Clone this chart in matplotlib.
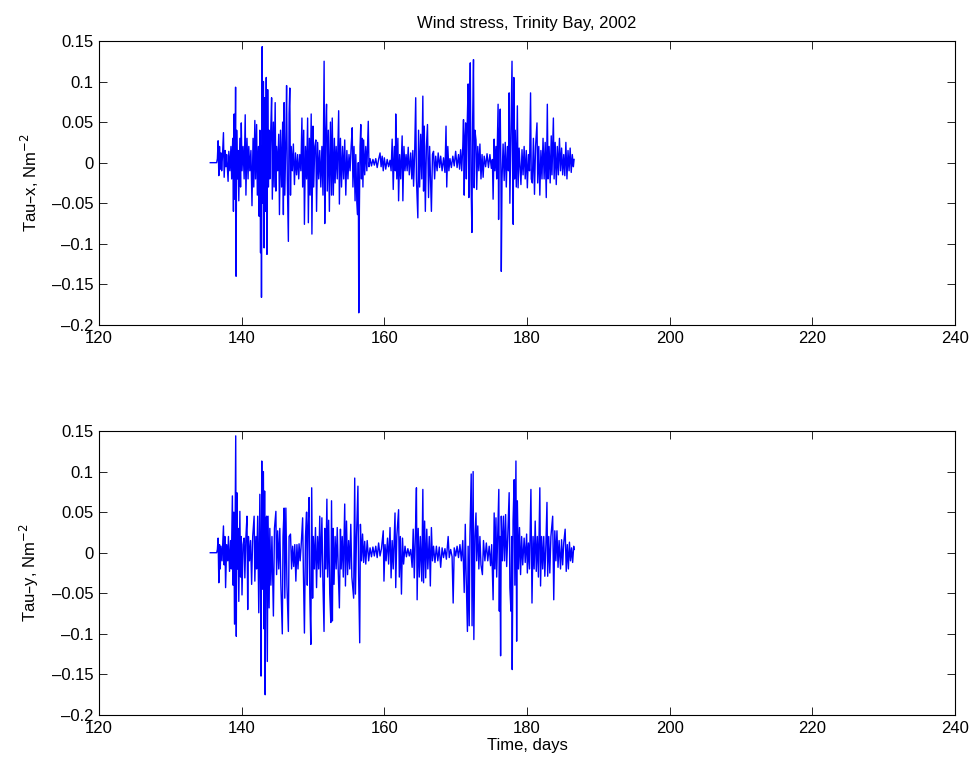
import matplotlib
matplotlib.use("Agg")
import matplotlib.pyplot as plt
import numpy as np
from matplotlib.ticker import FuncFormatter, MultipleLocator

plt.rcParams["font.family"] = ["Liberation Sans", "DejaVu Sans"]

# wind stress components (day of year, N m^-2)
taux_pts = [
    (135.6, 0.0), (136.5, 0.0), (136.6, 0.005), (136.7, 0.027), (136.8, -0.016), (136.9, 0.02),
    (137.0, -0.008), (137.1, 0.012), (137.2, -0.01), (137.3, 0.006), (137.45, 0.037), (137.55, -0.018),
    (137.7, 0.015), (137.8, -0.005), (137.9, 0.01), (138.1, -0.023), (138.2, 0.014), (138.35, -0.01),
    (138.5, 0.02), (138.6, -0.02), (138.75, 0.03), (138.85, -0.06), (138.95, 0.06), (139.05, -0.045),
    (139.15, 0.093), (139.22, -0.14), (139.3, 0.04), (139.4, -0.02), (139.5, 0.015), (139.6, -0.047),
    (139.75, 0.03), (139.85, -0.03), (139.95, 0.049), (140.05, -0.01), (140.2, 0.02), (140.35, -0.02),
    (140.5, 0.059), (140.6, -0.04), (140.75, 0.03), (140.9, -0.02), (141.0, 0.02), (141.15, -0.01),
    (141.3, 0.015), (141.45, -0.053), (141.6, 0.03), (141.7, -0.03), (141.85, 0.052), (141.95, -0.02),
    (142.1, 0.047), (142.2, -0.04), (142.35, 0.02), (142.45, -0.066), (142.55, 0.04), (142.65, -0.111),
    (142.72, 0.02), (142.78, -0.166), (142.88, 0.143), (142.95, -0.05), (143.05, 0.1), (143.15, -0.105),
    (143.25, 0.08), (143.35, -0.06), (143.45, 0.105), (143.55, -0.113), (143.65, 0.09), (143.75, -0.03),
    (143.85, 0.04), (143.95, -0.02), (144.05, 0.03), (144.2, 0.08), (144.3, -0.045), (144.45, 0.05),
    (144.55, -0.03), (144.7, 0.074), (144.8, -0.035), (144.9, 0.02), (145.05, -0.01), (145.2, 0.035),
    (145.3, -0.064), (145.45, 0.04), (145.6, -0.03), (145.75, 0.05), (145.85, -0.064), (145.95, 0.074),
    (146.05, -0.04), (146.2, 0.03), (146.3, 0.095), (146.4, -0.02), (146.55, -0.097), (146.65, 0.06),
    (146.75, 0.092), (146.85, -0.04), (146.95, 0.02), (147.1, -0.01), (147.25, 0.023), (147.4, -0.027),
    (147.55, 0.012), (147.7, -0.015), (147.85, 0.01), (148.0, -0.02), (148.15, 0.01), (148.3, -0.01),
    (148.45, 0.055), (148.55, -0.03), (148.7, 0.04), (148.8, -0.076), (148.95, 0.02), (149.1, -0.02),
    (149.25, 0.055), (149.35, -0.074), (149.5, 0.03), (149.6, -0.04), (149.75, 0.06), (149.85, -0.088),
    (150.0, 0.045), (150.1, -0.03), (150.25, 0.02), (150.4, 0.028), (150.5, -0.06), (150.65, 0.025),
    (150.8, -0.02), (150.95, 0.015), (151.1, -0.03), (151.25, 0.02), (151.4, -0.04), (151.56, 0.125),
    (151.65, -0.075), (151.75, 0.03), (151.9, 0.072), (152.0, -0.035), (152.15, 0.04), (152.3, -0.06),
    (152.45, 0.05), (152.6, -0.04), (152.7, 0.055), (152.85, -0.04), (153.0, 0.03), (153.1, -0.025),
    (153.25, 0.02), (153.4, -0.02), (153.6, 0.064), (153.7, -0.051), (153.85, 0.03), (154.0, -0.03),
    (154.15, 0.02), (154.3, -0.02), (154.45, 0.028), (154.6, -0.04), (154.75, 0.015), (154.9, -0.02),
    (155.05, 0.01), (155.2, -0.01), (155.35, 0.02), (155.5, 0.043), (155.6, -0.03), (155.75, 0.02),
    (155.9, -0.047), (156.0, 0.01), (156.15, -0.05), (156.25, -0.064), (156.35, 0.0), (156.42, -0.185),
    (156.5, -0.06), (156.6, 0.02), (156.7, 0.047), (156.8, -0.02), (156.9, 0.03), (157.0, -0.03),
    (157.1, 0.028), (157.25, -0.015), (157.4, 0.02), (157.55, -0.01), (157.75, 0.051), (157.85, -0.005),
    (158.0, 0.005), (158.2, -0.004), (158.4, 0.004), (158.6, -0.003), (158.8, 0.005), (159.0, -0.006),
    (159.2, 0.004), (159.4, 0.012), (159.55, -0.005), (159.7, 0.008), (159.85, -0.01), (160.0, 0.006),
    (160.2, -0.008), (160.4, 0.004), (160.6, -0.005), (160.8, 0.003), (160.95, -0.01), (161.1, 0.029),
    (161.25, -0.033), (161.4, 0.02), (161.55, -0.01), (161.6, 0.06), (161.75, -0.02), (161.9, 0.03),
    (162.0, -0.047), (162.15, 0.01), (162.3, -0.02), (162.5, 0.033), (162.6, -0.047), (162.75, 0.02),
    (162.9, -0.01), (163.05, 0.01), (163.2, -0.01), (163.35, 0.019), (163.5, -0.015), (163.7, 0.012),
    (163.85, -0.02), (164.0, 0.015), (164.1, -0.029), (164.25, 0.01), (164.4, 0.08), (164.5, -0.02),
    (164.7, -0.068), (164.8, 0.04), (164.95, -0.03), (165.1, 0.035), (165.25, -0.02), (165.4, 0.082),
    (165.5, -0.035), (165.6, 0.045), (165.75, -0.06), (165.9, 0.02), (166.05, 0.047), (166.2, -0.043),
    (166.35, 0.02), (166.5, -0.03), (166.6, -0.06), (166.75, 0.01), (166.9, 0.014), (167.05, -0.02),
    (167.2, 0.008), (167.4, -0.01), (167.55, 0.012), (167.75, -0.006), (167.9, 0.008), (168.1, -0.01),
    (168.3, 0.006), (168.5, -0.012), (168.65, 0.045), (168.75, -0.03), (168.9, 0.02), (169.05, -0.01),
    (169.2, 0.005), (169.4, -0.006), (169.6, 0.008), (169.8, -0.004), (170.0, 0.014), (170.2, -0.006),
    (170.4, 0.01), (170.55, -0.008), (170.7, 0.016), (170.85, -0.01), (171.0, 0.02), (171.1, 0.053),
    (171.2, -0.04), (171.3, 0.03), (171.4, 0.049), (171.5, -0.02), (171.6, 0.04), (171.75, 0.097),
    (171.85, -0.043), (171.95, 0.06), (172.05, 0.123), (172.15, -0.02), (172.28, -0.086), (172.38, 0.05),
    (172.5, 0.127), (172.6, -0.031), (172.7, 0.04), (172.85, 0.028), (172.95, -0.033), (173.1, 0.02),
    (173.25, -0.01), (173.4, 0.023), (173.55, -0.02), (173.7, 0.01), (173.85, -0.018), (174.0, 0.008),
    (174.2, -0.005), (174.4, 0.011), (174.6, -0.006), (174.8, 0.01), (175.0, -0.007), (175.15, 0.004),
    (175.25, -0.045), (175.4, 0.029), (175.5, -0.01), (175.65, 0.02), (175.75, -0.02), (175.95, 0.072),
    (176.02, -0.07), (176.12, 0.03), (176.25, 0.066), (176.35, -0.02), (176.4, -0.134), (176.5, -0.02),
    (176.65, 0.023), (176.8, -0.022), (176.95, 0.025), (177.1, -0.03), (177.25, 0.02), (177.4, -0.01),
    (177.5, 0.086), (177.6, -0.05), (177.75, 0.04), (177.9, 0.125), (178.0, -0.03), (178.07, -0.076),
    (178.15, 0.105), (178.25, -0.02), (178.35, 0.04), (178.5, -0.03), (178.65, 0.07), (178.75, -0.031),
    (178.9, 0.018), (179.05, -0.01), (179.15, -0.027), (179.3, 0.016), (179.45, -0.015), (179.6, 0.02),
    (179.75, -0.02), (179.9, 0.015), (180.05, -0.031), (180.2, 0.01), (180.35, -0.01), (180.5, 0.086),
    (180.6, -0.02), (180.75, -0.025), (180.9, 0.03), (181.05, -0.039), (181.2, 0.02), (181.4, 0.049),
    (181.5, -0.025), (181.65, 0.02), (181.8, -0.04), (181.95, 0.015), (182.1, -0.02), (182.25, 0.03),
    (182.4, -0.02), (182.55, 0.025), (182.7, -0.043), (182.85, 0.072), (182.95, -0.02), (183.1, 0.02),
    (183.25, -0.025), (183.4, 0.033), (183.5, -0.015), (183.7, 0.055), (183.8, -0.02), (183.95, 0.025),
    (184.1, -0.027), (184.25, 0.02), (184.4, -0.015), (184.55, 0.03), (184.7, -0.01), (184.85, 0.018),
    (185.0, -0.015), (185.15, 0.01), (185.3, -0.016), (185.45, 0.025), (185.6, -0.02), (185.75, 0.015),
    (185.9, -0.01), (186.05, 0.018), (186.2, -0.012), (186.35, 0.01), (186.5, -0.005), (186.6, 0.004),
]

tauy_pts = [
    (135.6, 0.0), (136.5, 0.0), (136.6, 0.004), (136.7, 0.018), (136.8, -0.037), (136.9, 0.01),
    (137.0, -0.02), (137.1, 0.008), (137.25, -0.01), (137.45, 0.033), (137.55, -0.015), (137.65, 0.02),
    (137.75, -0.043), (137.9, 0.01), (138.05, -0.01), (138.15, 0.02), (138.3, -0.023), (138.45, 0.015),
    (138.55, -0.02), (138.7, 0.07), (138.8, -0.04), (138.9, 0.05), (139.0, -0.088), (139.1, 0.06),
    (139.17, 0.144), (139.25, -0.103), (139.32, 0.074), (139.4, -0.02), (139.5, 0.03), (139.6, -0.06),
    (139.75, 0.051), (139.85, -0.03), (139.95, 0.02), (140.05, -0.052), (140.2, 0.01), (140.35, 0.018),
    (140.45, -0.031), (140.6, 0.02), (140.75, 0.045), (140.85, -0.07), (140.95, 0.02), (141.1, -0.01),
    (141.25, 0.015), (141.4, -0.039), (141.55, 0.02), (141.75, 0.045), (141.85, -0.035), (142.0, 0.02),
    (142.1, -0.02), (142.25, 0.045), (142.4, -0.074), (142.55, 0.072), (142.65, -0.04), (142.72, -0.152),
    (142.82, 0.113), (142.92, -0.045), (143.05, 0.1), (143.15, -0.094), (143.22, 0.076), (143.3, -0.175),
    (143.4, 0.04), (143.5, 0.045), (143.6, -0.134), (143.7, 0.045), (143.85, -0.068), (143.95, 0.03),
    (144.1, -0.04), (144.25, 0.02), (144.45, -0.078), (144.6, 0.03), (144.8, 0.051), (144.9, -0.027),
    (145.05, 0.027), (145.2, -0.02), (145.35, 0.03), (145.5, -0.04), (145.7, -0.1), (145.8, 0.02),
    (145.95, 0.055), (146.05, -0.056), (146.2, 0.055), (146.35, -0.04), (146.55, -0.097), (146.65, 0.02),
    (146.85, 0.023), (147.0, -0.02), (147.15, 0.008), (147.3, -0.017), (147.45, 0.01), (147.6, -0.035),
    (147.75, 0.01), (147.9, -0.02), (148.05, 0.011), (148.2, -0.01), (148.35, 0.01), (148.55, 0.043),
    (148.65, -0.02), (148.8, -0.099), (148.95, 0.02), (149.1, 0.05), (149.2, -0.04), (149.3, 0.03),
    (149.45, 0.068), (149.55, -0.05), (149.7, -0.113), (149.82, 0.08), (149.95, -0.056), (150.05, 0.02),
    (150.2, -0.02), (150.35, 0.031), (150.5, -0.043), (150.65, 0.02), (150.8, -0.02), (150.95, 0.045),
    (151.05, -0.03), (151.25, 0.043), (151.4, -0.04), (151.55, -0.097), (151.65, 0.03), (151.8, -0.02),
    (151.95, 0.066), (152.05, -0.03), (152.2, 0.04), (152.35, -0.05), (152.5, -0.086), (152.6, 0.064),
    (152.72, -0.084), (152.82, 0.03), (152.95, -0.039), (153.1, 0.02), (153.25, -0.02), (153.4, 0.031),
    (153.55, -0.025), (153.7, -0.068), (153.85, 0.029), (153.95, -0.02), (154.1, 0.02), (154.25, -0.03),
    (154.45, 0.06), (154.55, -0.041), (154.7, 0.039), (154.85, -0.027), (155.0, 0.015), (155.15, -0.02),
    (155.3, 0.035), (155.45, -0.03), (155.7, -0.056), (155.85, 0.092), (155.95, -0.051), (156.1, 0.02),
    (156.3, 0.082), (156.4, -0.03), (156.55, -0.111), (156.65, 0.035), (156.8, -0.01), (156.95, 0.023),
    (157.1, -0.012), (157.25, 0.014), (157.4, -0.014), (157.6, 0.015), (157.8, -0.01), (158.0, 0.006),
    (158.2, -0.005), (158.4, 0.007), (158.6, -0.004), (158.8, 0.008), (159.0, -0.006), (159.2, 0.012),
    (159.4, -0.004), (159.6, 0.005), (159.85, 0.027), (159.95, -0.035), (160.1, 0.01), (160.25, -0.01),
    (160.45, 0.018), (160.6, -0.014), (160.8, 0.031), (160.95, -0.031), (161.1, 0.015), (161.25, -0.02),
    (161.5, 0.049), (161.6, -0.043), (161.75, 0.02), (162.0, 0.053), (162.1, -0.03), (162.25, 0.02),
    (162.4, -0.051), (162.55, 0.018), (162.7, -0.014), (162.9, 0.008), (163.1, -0.005), (163.3, 0.005),
    (163.5, -0.004), (163.7, 0.004), (163.9, -0.018), (164.05, 0.029), (164.2, -0.031), (164.35, 0.02),
    (164.5, 0.08), (164.6, -0.058), (164.75, 0.03), (164.9, -0.03), (165.05, 0.02), (165.25, -0.035),
    (165.4, 0.078), (165.5, -0.037), (165.65, 0.039), (165.8, -0.031), (165.95, 0.029), (166.1, -0.02),
    (166.3, 0.02), (166.45, -0.041), (166.6, 0.031), (166.75, -0.01), (166.9, 0.008), (167.1, -0.012),
    (167.3, 0.008), (167.5, -0.01), (167.7, 0.007), (167.9, -0.018), (168.1, 0.006), (168.3, -0.006),
    (168.5, 0.005), (168.7, -0.008), (168.95, 0.02), (169.1, -0.006), (169.3, 0.004), (169.5, -0.005),
    (169.65, -0.062), (169.8, 0.006), (170.0, -0.004), (170.2, 0.008), (170.4, -0.006), (170.6, 0.01),
    (170.8, -0.01), (171.0, 0.015), (171.2, -0.049), (171.35, 0.035), (171.45, -0.02), (171.65, -0.097),
    (171.75, 0.008), (171.9, -0.09), (172.0, 0.02), (172.18, 0.097), (172.3, -0.09), (172.45, 0.1),
    (172.55, -0.107), (172.7, 0.02), (172.85, 0.049), (172.95, -0.01), (173.1, 0.033), (173.25, -0.02),
    (173.4, 0.02), (173.55, -0.015), (173.75, -0.027), (173.9, 0.015), (174.1, -0.01), (174.3, 0.012),
    (174.5, -0.01), (174.7, 0.008), (174.9, -0.016), (175.05, 0.01), (175.25, -0.058), (175.4, 0.049),
    (175.5, -0.02), (175.65, 0.043), (175.75, -0.03), (176.05, 0.078), (176.12, -0.072), (176.2, 0.02),
    (176.3, -0.127), (176.4, 0.045), (176.55, -0.01), (176.7, 0.045), (176.85, -0.01), (177.0, 0.047),
    (177.15, -0.017), (177.3, 0.02), (177.5, 0.074), (177.6, -0.043), (177.75, -0.072), (177.85, 0.02),
    (177.93, -0.144), (178.05, 0.04), (178.2, 0.09), (178.3, -0.04), (178.45, 0.113), (178.55, -0.109),
    (178.65, 0.064), (178.8, -0.02), (178.95, 0.031), (179.1, -0.027), (179.25, 0.02), (179.4, -0.015),
    (179.6, 0.018), (179.75, -0.012), (179.95, 0.023), (180.05, -0.025), (180.2, 0.012), (180.35, -0.02),
    (180.55, 0.078), (180.7, -0.062), (180.85, 0.02), (181.0, -0.02), (181.15, 0.039), (181.3, -0.023),
    (181.45, 0.02), (181.6, -0.03), (181.8, 0.08), (181.9, -0.041), (182.05, 0.02), (182.2, -0.02),
    (182.35, 0.02), (182.5, -0.029), (182.65, 0.01), (182.8, 0.062), (182.9, -0.029), (183.05, 0.02),
    (183.2, -0.025), (183.35, 0.02), (183.6, 0.045), (183.75, -0.058), (183.9, 0.027), (184.05, -0.01),
    (184.2, 0.027), (184.35, -0.018), (184.5, 0.015), (184.7, -0.02), (184.85, 0.016), (185.0, -0.015),
    (185.15, 0.012), (185.35, 0.029), (185.5, -0.023), (185.65, 0.01), (185.8, -0.02), (185.95, 0.013),
    (186.1, -0.01), (186.25, 0.006), (186.4, -0.012), (186.55, 0.008), (186.6, 0.004),
]

xlim = (120, 240)
ylim = (-0.2, 0.15)
title = "Wind stress, Trinity Bay, 2002"
ylabels = ["Tau\u2013x, Nm$^{-2}$", "Tau\u2013y, Nm$^{-2}$"]
xlabel = "Time, days"

FS = 12
fig = plt.figure(figsize=(9.77, 7.71), dpi=100)
ax1 = fig.add_axes([0.1013, 0.5785, 0.8762, 0.3684])
ax2 = fig.add_axes([0.1013, 0.0726, 0.8762, 0.3684])

fmt = FuncFormatter(lambda v, _: f"{v:g}".replace("-", "\u2013"))

for ax, pts, lab in zip([ax1, ax2], [taux_pts, tauy_pts], ylabels):
    arr = np.array(pts)
    ax.plot(arr[:, 0], arr[:, 1], color="#0000ff", lw=1.0)
    ax.set_xlim(*xlim)
    ax.set_ylim(*ylim)
    ax.xaxis.set_major_locator(MultipleLocator(20))
    ax.yaxis.set_major_locator(MultipleLocator(0.05))
    ax.yaxis.set_major_formatter(fmt)
    ax.tick_params(direction="in", top=True, right=True, length=6, width=0.6,
                   labelsize=FS, pad=4)
    for sp in ax.spines.values():
        sp.set_linewidth(0.8)
    ax.set_ylabel(lab, fontsize=FS, labelpad=8)

ax1.set_title(title, fontsize=FS, pad=9)
ax2.set_xlabel(xlabel, fontsize=FS, labelpad=2)

fig.savefig("out.png", dpi=100)
